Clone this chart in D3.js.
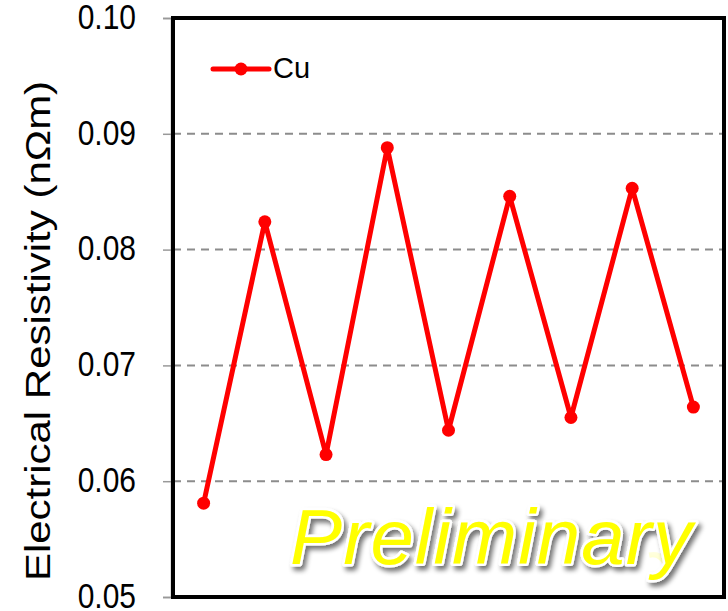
<!DOCTYPE html>
<html>
<head>
<meta charset="utf-8">
<script src="https://cdnjs.cloudflare.com/ajax/libs/d3/7.8.5/d3.min.js"></script>
<style>
  html, body { margin: 0; padding: 0; background: #fff; }
  svg { display: block; font-family: Arial, "Liberation Sans", sans-serif; }
</style>
</head>
<body>
<div id="chart"></div>
<script>
// Data
const categories = ["1", "2", "3", "4", "5", "6", "7", "8", "9"];
const cuValues = [0.0581, 0.0824, 0.0623, 0.0888, 0.0644, 0.0846, 0.0655, 0.0853, 0.0664];
const yTicks = [0.05, 0.06, 0.07, 0.08, 0.09, 0.10];
const gridTicks = [0.06, 0.07, 0.08, 0.09];
const seriesName = "Cu";
const yTitle = "Electrical Resistivity (nΩm)";
const watermark = "Preliminary";

const W = 728, H = 611;
const plot = { left: 173, top: 18, right: 724, bottom: 597 };

const svg = d3.select("#chart").append("svg")
  .attr("width", W)
  .attr("height", H);

const defs = svg.append("defs");

// soft shadow for the watermark
const shadow = defs.append("filter").attr("id", "wm-shadow")
  .attr("x", "-10%").attr("y", "-20%").attr("width", "130%").attr("height", "160%");
shadow.append("feGaussianBlur").attr("in", "SourceAlpha").attr("stdDeviation", 2.5).attr("result", "blur");
shadow.append("feOffset").attr("in", "blur").attr("dx", 3).attr("dy", 4).attr("result", "off");
shadow.append("feComponentTransfer").attr("in", "off").attr("result", "soft")
  .append("feFuncA").attr("type", "linear").attr("slope", 0.55);
const merge = shadow.append("feMerge");
merge.append("feMergeNode").attr("in", "soft");
merge.append("feMergeNode").attr("in", "SourceGraphic");

// fading reflection
const fade = defs.append("linearGradient").attr("id", "wm-fade")
  .attr("x1", 0).attr("y1", 0).attr("x2", 0).attr("y2", 1);
fade.append("stop").attr("offset", "0%").attr("stop-color", "#fff").attr("stop-opacity", 0.45);
fade.append("stop").attr("offset", "45%").attr("stop-color", "#fff").attr("stop-opacity", 0);
defs.append("mask").attr("id", "wm-mask")
  .append("rect")
  .attr("x", plot.left).attr("y", 565)
  .attr("width", plot.right - plot.left).attr("height", 60)
  .attr("fill", "url(#wm-fade)");

// Scales
const x = d3.scalePoint()
  .domain(categories)
  .range([plot.left, plot.right])
  .padding(0.5);

const y = d3.scaleLinear()
  .domain([0.05, 0.10])
  .range([plot.bottom, plot.top]);

// Grid lines
svg.append("g")
  .selectAll("line")
  .data(gridTicks)
  .join("line")
  .attr("x1", plot.left)
  .attr("x2", plot.right)
  .attr("y1", d => y(d))
  .attr("y2", d => y(d))
  .attr("stroke", "#8c8c8c")
  .attr("stroke-width", 2)
  .attr("stroke-dasharray", "8,6");

// Watermark + reflection
const wmX = 290, wmY = 564;
svg.append("text")
  .attr("transform", `translate(0,${2 * wmY + 4}) scale(1,-1)`)
  .attr("x", wmX)
  .attr("y", wmY)
  .attr("mask", "url(#wm-mask)")
  .style("font-size", "78px")
  .style("font-style", "italic")
  .style("fill", "#ffff00")
  .style("opacity", 0.6)
  .attr("textLength", 402)
  .text(watermark);

svg.append("text")
  .attr("x", wmX)
  .attr("y", wmY)
  .attr("filter", "url(#wm-shadow)")
  .style("font-size", "78px")
  .style("font-style", "italic")
  .style("fill", "#ffff00")
  .style("stroke", "#ffffff")
  .style("stroke-width", 5)
  .style("paint-order", "stroke")
  .style("stroke-linejoin", "round")
  .attr("textLength", 402)
  .text(watermark);

// Y axis
const yAxis = svg.append("g")
  .attr("transform", `translate(${plot.left - 2},0)`)
  .call(d3.axisLeft(y).tickValues(yTicks).tickFormat(d3.format(".2f")).tickSize(8).tickPadding(27));
yAxis.select(".domain").attr("stroke", "#888").attr("stroke-width", 1.5);
yAxis.selectAll(".tick line").attr("stroke", "#999").attr("stroke-width", 1.5);
yAxis.selectAll(".tick text")
  .attr("transform", "scale(1,1.15)")
  .attr("dy", "0.3em")
  .style("font-size", "30px")
  .style("font-family", "Arial, 'Liberation Sans', sans-serif")
  .attr("fill", "#000");

// Frame
svg.append("rect")
  .attr("x", plot.left)
  .attr("y", plot.top)
  .attr("width", plot.right - plot.left)
  .attr("height", plot.bottom - plot.top)
  .attr("fill", "none")
  .attr("stroke", "#000")
  .attr("stroke-width", 4);

// Y title (stretched along its length like the reference)
svg.append("text")
  .attr("transform", `translate(50,331) rotate(-90) scale(1.2,1)`)
  .attr("text-anchor", "middle")
  .style("font-size", "35px")
  .text(yTitle);

// Series line
const series = categories.map((c, i) => ({ cat: c, value: cuValues[i] }));
svg.append("path")
  .datum(series)
  .attr("fill", "none")
  .attr("stroke", "#ff0000")
  .attr("stroke-width", 5)
  .attr("stroke-linejoin", "round")
  .attr("d", d3.line().x(d => x(d.cat)).y(d => y(d.value)));

svg.append("g")
  .selectAll("circle")
  .data(series)
  .join("circle")
  .attr("cx", d => x(d.cat))
  .attr("cy", d => y(d.value))
  .attr("r", 6.5)
  .attr("fill", "#ff0000");

// Legend
const legend = svg.append("g").attr("transform", "translate(213,69)");
legend.append("line")
  .attr("x1", 0).attr("x2", 56)
  .attr("stroke", "#ff0000").attr("stroke-width", 5).attr("stroke-linecap", "round");
legend.append("circle").attr("cx", 28).attr("r", 6.5).attr("fill", "#ff0000");
legend.append("text")
  .attr("x", 60)
  .attr("y", 9)
  .style("font-size", "29px")
  .text(seriesName);
</script>
</body>
</html>
